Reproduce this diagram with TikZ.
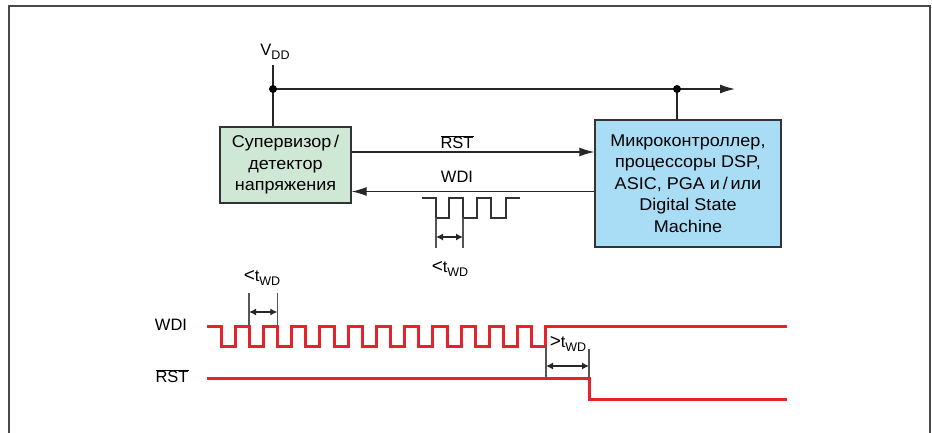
\documentclass[tikz,border=0pt]{standalone}
\usepackage{fontspec}
\setmainfont{Liberation Sans}
\newfontfamily\boxfont[FakeStretch=1.06]{Liberation Sans}
\usetikzlibrary{arrows.meta}
\definecolor{greenc}{HTML}{CFE8D5}
\definecolor{bluec}{HTML}{A8DDF5}
\definecolor{redc}{HTML}{E8222B}
\definecolor{framec}{HTML}{4A4A4A}
\definecolor{dimc}{HTML}{555555}
\newcommand{\twd}{t\raisebox{-0.45ex}{\fontsize{12.5}{12}\selectfont WD}}
\begin{document}
\begin{tikzpicture}[x=1pt,y=-1pt,
  txt/.style={font=\fontsize{16.5}{21.5}\selectfont, inner sep=0pt},
  box/.style={draw=black!80, line width=1.3pt, align=center, inner sep=0pt, font=\boxfont\fontsize{17}{21.5}\selectfont},
  wire/.style={draw=black!85, line width=1.3pt},
  arr/.style={wire, -{Latex[length=15pt,width=9pt]}},
  dimtick/.style={draw=dimc, line width=1.3pt},
  dimarr/.style={draw=black!85, line width=1.2pt, {Latex[length=7pt,width=7pt]}-{Latex[length=7pt,width=7pt]}},
  wave/.style={draw=black!80, line width=1.3pt},
  redw/.style={draw=redc, line width=3pt}]
\useasboundingbox (0,0) rectangle (932,433);
\draw[framec, line width=1.4pt] (9,433) -- (9,6) -- (930,6) -- (930,433);

% blocks
\node[box, fill=greenc, minimum width=131pt, minimum height=76pt] (sup) at (285.5,165) {Супервизор\,/\\детектор\\напряжения};
\node[box, fill=bluec, minimum width=186pt, minimum height=127pt] (mcu) at (688,183.5) {Микроконтроллер,\\процессоры DSP,\\ASIC, PGA и\,/\,или\\Digital State\\Machine};

% supply
\node[txt] (vdd) at (275,52) {V\raisebox{-0.45ex}{\fontsize{12.5}{12}\selectfont DD}};
\coordinate (vtop) at (273,65);
\coordinate (j1) at (273,89);
\coordinate (j2) at (677,89);
\coordinate (vend) at (735,89);
\draw[wire] (vtop) -- (vtop |- sup.north);
\draw[arr] (j1) -- (vend);
\draw[wire] (j2) -- (j2 |- mcu.north);
\fill[black] (j1) circle (4pt);
\fill[black] (j2) circle (4pt);

% signals
\coordinate (rsty) at (0,152);
\coordinate (wdiy) at (0,191.5);
\draw[arr] (sup.east |- rsty) -- (mcu.west |- rsty);
\draw[arr] (mcu.west |- wdiy) -- (sup.east |- wdiy);
\node[txt] (rstlab) at (457,142) {$\overline{\mbox{RST}}$};
\node[txt] (wdilab) at (457,177) {WDI};

% small waveform
\draw[wave] (422,198) -- (436,198) -- (436,218) -- (449,218) -- (449,198) -- (463,198) -- (463,218) -- (477,218) -- (477,198) -- (491,198) -- (491,218) -- (506,218) -- (506,198) -- (520,198);
\coordinate (d1a) at (436,218); \coordinate (d1b) at (436,248);
\coordinate (d2a) at (463,218); \coordinate (d2b) at (463,248);
\draw[dimtick] (d1a) -- (d1b);
\draw[dimtick] (d2a) -- (d2b);
\draw[dimarr] (436,237) -- (463,237);
\node[txt] (tw1) at (450,269) {\fontsize{19}{19}\selectfont<\fontsize{16.5}{19}\selectfont\twd};

% timing diagram
\node[txt] (wdit) at (171,325) {WDI};
\node[txt] (rstt) at (172,376) {$\overline{\mbox{RST}}$};
\draw[redw] (207,326) \foreach \k in {0,...,11} { -- ({221+28.27*\k},326) -- ({221+28.27*\k},346) -- ({235+28.27*\k},346) -- ({235+28.27*\k},326) } -- (787,326);
\draw[redw] (207,378) -- (589,378) -- (589,399.5) -- (787,399.5);

\draw[dimtick] (249,293) -- (249,326);
\draw[dimtick] (277.3,293) -- (277.3,326);
\draw[dimarr] (249,312) -- (277.3,312);
\node[txt] (tw2) at (262,278) {\fontsize{19}{19}\selectfont<\fontsize{16.5}{19}\selectfont\twd};

\draw[dimtick] (546,346) -- (546,378);
\draw[dimtick] (589,349) -- (589,378);
\draw[dimarr] (546,366) -- (589,366);
\node[txt] (tw3) at (568,344) {\fontsize{19}{19}\selectfont>\fontsize{16.5}{19}\selectfont\twd};
\end{tikzpicture}
\end{document}
